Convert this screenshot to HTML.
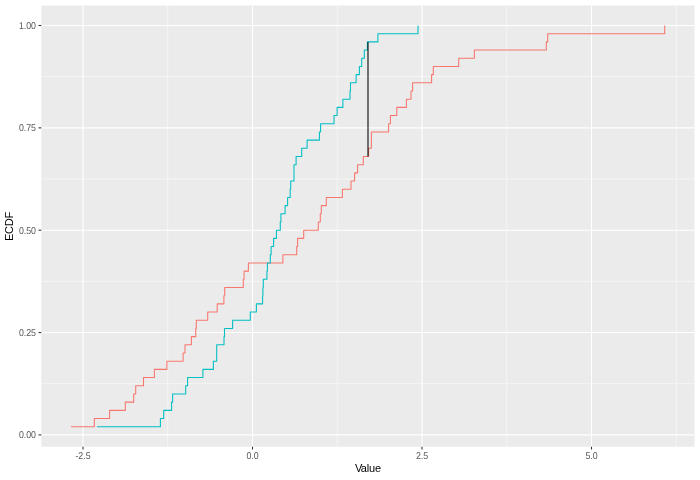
<!DOCTYPE html>
<html><head><meta charset="utf-8"><title>ECDF</title>
<style>
html,body{margin:0;padding:0;background:#fff;}
svg{display:block;}
.t{font-family:"Liberation Sans",Arial,Helvetica,sans-serif;font-size:8.8px;fill:#555;text-rendering:geometricPrecision;}
.a{font-family:"Liberation Sans",Arial,Helvetica,sans-serif;font-size:11px;fill:#000;}
</style></head><body>
<svg width="700" height="480" viewBox="0 0 700 480">
<rect width="700" height="480" fill="#fff"/>
<rect x="41.3" y="5.5" width="653.2" height="441.2" fill="#EBEBEB"/>
<path d="M41.3 383.72H694.5" stroke="#fff" stroke-width="0.53" stroke-opacity="1"/>
<path d="M41.3 281.38H694.5" stroke="#fff" stroke-width="0.53" stroke-opacity="1"/>
<path d="M41.3 179.02H694.5" stroke="#fff" stroke-width="0.53" stroke-opacity="1"/>
<path d="M41.3 76.68H694.5" stroke="#fff" stroke-width="0.53" stroke-opacity="1"/>
<path d="M167.75 5.5V446.8" stroke="#fff" stroke-width="0.53"/>
<path d="M337.25 5.5V446.8" stroke="#fff" stroke-width="0.53"/>
<path d="M506.75 5.5V446.8" stroke="#fff" stroke-width="0.53"/>
<path d="M676.25 5.5V446.8" stroke="#fff" stroke-width="0.53"/>
<path d="M41.3 434.90H694.5" stroke="#fff" stroke-width="1.07"/>
<path d="M41.3 332.55H694.5" stroke="#fff" stroke-width="1.07"/>
<path d="M41.3 230.20H694.5" stroke="#fff" stroke-width="1.07"/>
<path d="M41.3 127.85H694.5" stroke="#fff" stroke-width="1.07"/>
<path d="M41.3 25.50H694.5" stroke="#fff" stroke-width="1.07"/>
<path d="M83.00 5.5V446.8" stroke="#fff" stroke-width="1.07"/>
<path d="M252.50 5.5V446.8" stroke="#fff" stroke-width="1.07"/>
<path d="M422.00 5.5V446.8" stroke="#fff" stroke-width="1.07"/>
<path d="M591.50 5.5V446.8" stroke="#fff" stroke-width="1.07"/>
<path d="M71.0 426.71 H94.3 V418.52 H109.6 V410.34 H125.3 V402.15 H133.7 V393.96 H135.7 V385.77 H143.5 V377.58 H154.4 V369.40 H166.9 V361.21 H183.1 V353.02 H185.0 V344.83 H191.4 V336.64 H195.7 V328.46 H196.3 V320.27 H207.7 V312.08 H217.2 V303.89 H223.9 V295.70 H224.7 V287.52 H243.3 V279.33 H244.1 V271.14 H248.4 V262.95 H282.9 V254.76 H296.7 V246.58 H297.6 V238.39 H303.7 V230.20 H318.3 V222.01 H320.3 V213.82 H321.3 V205.64 H326.3 V197.45 H342.4 V189.26 H351.0 V181.07 H354.6 V172.88 H357.6 V164.70 H363.3 V156.51 H368.6 V148.32 H371.4 V140.13 H371.4 V131.94 H388.6 V123.76 H390.4 V115.57 H396.8 V107.38 H406.4 V99.19 H411.0 V91.00 H412.6 V82.82 H431.6 V74.63 H433.3 V66.44 H458.7 V58.25 H474.4 V50.06 H546.3 V41.88 H547.7 V33.69 H664.7 V25.50" fill="none" stroke="#F8766D" stroke-width="1.07" stroke-linejoin="round" stroke-linecap="butt"/>
<path d="M96.9 426.71 H160.4 V418.52 H163.7 V410.34 H171.6 V402.15 H172.6 V393.96 H185.7 V385.77 H187.6 V377.58 H202.9 V369.40 H213.4 V361.21 H216.7 V353.02 H216.7 V344.83 H224.0 V336.64 H224.5 V328.46 H232.6 V320.27 H250.3 V312.08 H256.4 V303.89 H262.6 V295.70 H262.9 V287.52 H263.3 V279.33 H266.9 V271.14 H267.4 V262.95 H270.3 V254.76 H271.1 V246.58 H273.6 V238.39 H276.4 V230.20 H280.3 V222.01 H280.9 V213.82 H285.1 V205.64 H287.6 V197.45 H290.2 V189.26 H290.7 V181.07 H294.0 V172.88 H294.0 V164.70 H296.1 V156.51 H301.7 V148.32 H307.1 V140.13 H319.4 V131.94 H320.6 V123.76 H334.0 V115.57 H337.1 V107.38 H342.9 V99.19 H350.0 V91.00 H350.5 V82.82 H356.1 V74.63 H359.4 V66.44 H361.7 V58.25 H364.3 V50.06 H367.4 V41.88 H377.9 V33.69 H418.0 V25.50" fill="none" stroke="#00BFC4" stroke-width="1.07" stroke-linejoin="round" stroke-linecap="butt"/>
<path d="M368.0 156.51V41.88" stroke="#000" stroke-width="1.07"/>
<path d="M38.55 434.90H41.3" stroke="#333" stroke-width="1.07"/>
<path d="M38.55 332.55H41.3" stroke="#333" stroke-width="1.07"/>
<path d="M38.55 230.20H41.3" stroke="#333" stroke-width="1.07"/>
<path d="M38.55 127.85H41.3" stroke="#333" stroke-width="1.07"/>
<path d="M38.55 25.50H41.3" stroke="#333" stroke-width="1.07"/>
<path d="M83.00 446.75V449.5" stroke="#333" stroke-width="1.07"/>
<path d="M252.50 446.75V449.5" stroke="#333" stroke-width="1.07"/>
<path d="M422.00 446.75V449.5" stroke="#333" stroke-width="1.07"/>
<path d="M591.50 446.75V449.5" stroke="#333" stroke-width="1.07"/>
<text transform="translate(36 438.20) scale(1 1.13)" text-anchor="end" class="t">0.00</text>
<text transform="translate(36 335.85) scale(1 1.13)" text-anchor="end" class="t">0.25</text>
<text transform="translate(36 233.50) scale(1 1.13)" text-anchor="end" class="t">0.50</text>
<text transform="translate(36 131.15) scale(1 1.13)" text-anchor="end" class="t">0.75</text>
<text transform="translate(36 28.80) scale(1 1.13)" text-anchor="end" class="t">1.00</text>
<text transform="translate(83.00 458.7) scale(1 1.13)" text-anchor="middle" class="t">-2.5</text>
<text transform="translate(252.50 458.7) scale(1 1.13)" text-anchor="middle" class="t">0.0</text>
<text transform="translate(422.00 458.7) scale(1 1.13)" text-anchor="middle" class="t">2.5</text>
<text transform="translate(591.50 458.7) scale(1 1.13)" text-anchor="middle" class="t">5.0</text>
<text x="355.1 360.85 366.66 369.11 374.95" y="472" class="a">Value</text>
<text transform="translate(13.2 226.45) rotate(-90)" text-anchor="middle" class="a" style="letter-spacing:-0.2px">ECDF</text>
</svg>
</body></html>
